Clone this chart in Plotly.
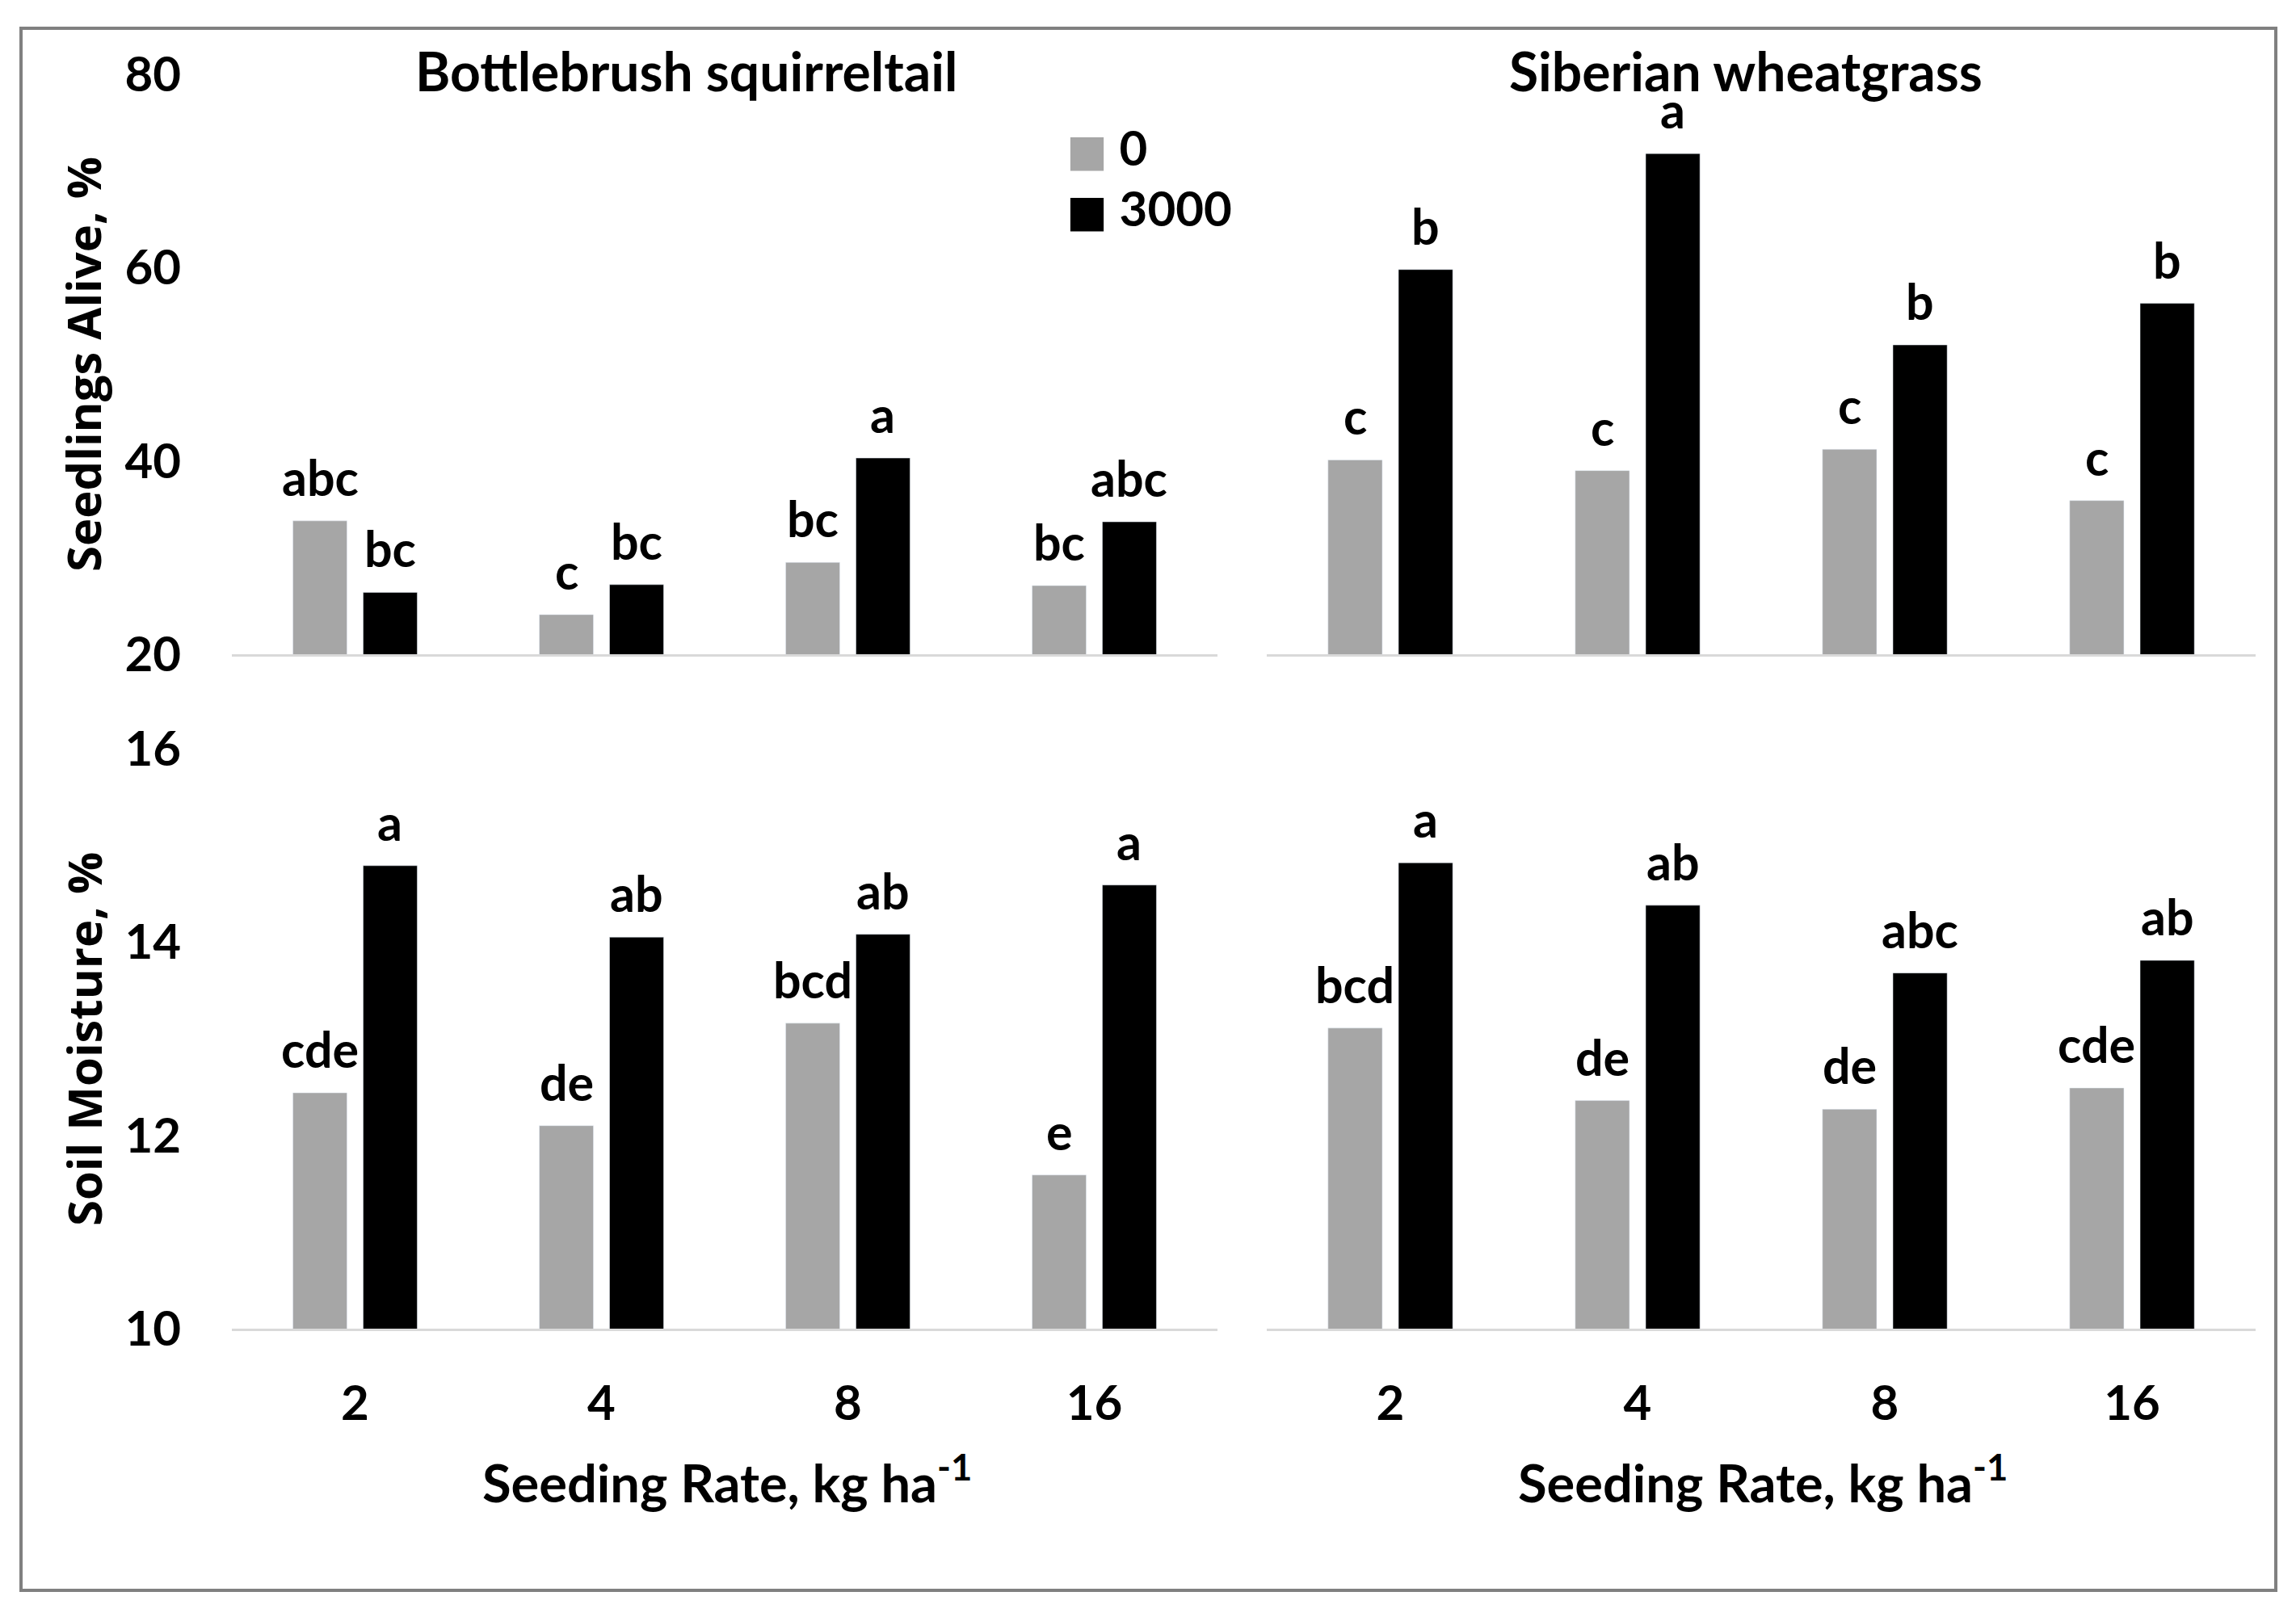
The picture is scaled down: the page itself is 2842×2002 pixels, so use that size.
import plotly.graph_objects as go

# ---------------- data ----------------
categories = ["2", "4", "8", "16"]
series_names = ["0", "3000"]

bs_alive_0 = [33.8, 24.1, 29.5, 27.1]
bs_alive_3000 = [26.4, 27.2, 40.3, 33.7]
sw_alive_0 = [40.1, 39.0, 41.2, 35.9]
sw_alive_3000 = [59.8, 71.8, 52.0, 56.3]

bs_moist_0 = [12.44, 12.10, 13.16, 11.59]
bs_moist_3000 = [14.79, 14.05, 14.08, 14.59]
sw_moist_0 = [13.11, 12.36, 12.27, 12.49]
sw_moist_3000 = [14.82, 14.38, 13.68, 13.81]

bs_alive_0_lbl = ["abc", "c", "bc", "bc"]
bs_alive_3000_lbl = ["bc", "bc", "a", "abc"]
sw_alive_0_lbl = ["c", "c", "c", "c"]
sw_alive_3000_lbl = ["b", "a", "b", "b"]
bs_moist_0_lbl = ["cde", "de", "bcd", "e"]
bs_moist_3000_lbl = ["a", "ab", "ab", "a"]
sw_moist_0_lbl = ["bcd", "de", "de", "cde"]
sw_moist_3000_lbl = ["a", "ab", "abc", "ab"]

panel_titles = ["Bottlebrush squirreltail", "Siberian wheatgrass"]
y_titles = ["Seedlings Alive, %", "Soil Moisture, %"]
x_title = "Seeding Rate, kg ha<sup>-1</sup>"

# ---------------- style / layout ----------------
W, H = 2842, 2002
GRAY = "#a6a6a6"
BLACK = "#000000"
SERIES_COLORS = [GRAY, BLACK]
FONT = "Lato"
TITLE_FONT = "Open Sans"
BARGAP = 0.43
BARGROUPGAP = 0.23

xL = [287 / W, 1507 / W]
xR = [1568 / W, 2792 / W]
yT = [1 - 810 / H, 1 - 92 / H]
yB = [1 - 1645 / H, 1 - 927 / H]

panels = [
    ("x", "y", xL, yT, bs_alive_0, bs_alive_3000, bs_alive_0_lbl, bs_alive_3000_lbl),
    ("x2", "y2", xR, yT, sw_alive_0, sw_alive_3000, sw_alive_0_lbl, sw_alive_3000_lbl),
    ("x3", "y3", xL, yB, bs_moist_0, bs_moist_3000, bs_moist_0_lbl, bs_moist_3000_lbl),
    ("x4", "y4", xR, yB, sw_moist_0, sw_moist_3000, sw_moist_0_lbl, sw_moist_3000_lbl),
]

fig = go.Figure()
annotations = []
label_font = dict(family=FONT, size=61, color="black", weight="bold")

for xa, ya, xd, yd, v0, v1, l0, l1 in panels:
    fig.add_trace(go.Bar(x=categories, y=v0, name=series_names[0], marker_color=GRAY,
                         xaxis=xa, yaxis=ya, showlegend=False, legendgroup="0"))
    fig.add_trace(go.Bar(x=categories, y=v1, name=series_names[1], marker_color=BLACK,
                         xaxis=xa, yaxis=ya, showlegend=False, legendgroup="3000"))
    cat_w = (xd[1] - xd[0]) * W / len(categories)
    off = (1 - BARGAP) / 4 * cat_w
    for vals, lbls, sgn in ((v0, l0, -1), (v1, l1, 1)):
        for idx, (v, t) in enumerate(zip(vals, lbls)):
            # category axes: annotation x given as the category index
            annotations.append(dict(x=idx, y=v, xref=xa, yref=ya, text=t, showarrow=False,
                                    xanchor="center", yanchor="bottom", xshift=sgn * off,
                                    yshift=16, font=label_font))

tick_font = dict(family=FONT, size=60, color="black", weight="bold")
base_line = dict(showline=True, linecolor="#d9d9d9", linewidth=3, ticks="", showgrid=False,
                 zeroline=False, fixedrange=True, automargin=False)

layout_axes = {}
for i, (xa, ya, xd, yd, *_rest) in enumerate(panels):
    xname = "xaxis" if xa == "x" else "xaxis" + xa[1:]
    yname = "yaxis" if ya == "y" else "yaxis" + ya[1:]
    bottom = i >= 2
    left = i % 2 == 0
    layout_axes[xname] = dict(base_line, domain=xd, anchor=ya, type="category",
                              categoryorder="array", categoryarray=categories,
                              range=[-0.5, len(categories) - 0.5],
                              showticklabels=bottom, tickfont=tick_font, ticklabelstandoff=38)
    if i < 2:
        yrange, dt = [20, 80], 20
    else:
        yrange, dt = [10, 16], 2
    layout_axes[yname] = dict(domain=yd, anchor=xa, range=yrange, dtick=dt, tick0=yrange[0],
                              showgrid=False, zeroline=False, showline=False, ticks="",
                              showticklabels=left, tickfont=tick_font, ticklabelstandoff=62,
                              fixedrange=True, automargin=False)

title_font = dict(family=FONT, size=66, color="black", weight="bold")
xt_font = dict(family=FONT, size=65, color="black", weight="bold")
yt_font = dict(family=TITLE_FONT, size=58, color="black", weight="bold")
annotations += [
    dict(x=849 / W, y=1 - 88 / H, xref="paper", yref="paper", text=panel_titles[0],
         showarrow=False, xanchor="center", yanchor="middle", font=title_font),
    dict(x=2161 / W, y=1 - 88 / H, xref="paper", yref="paper", text=panel_titles[1],
         showarrow=False, xanchor="center", yanchor="middle", font=title_font),
    dict(x=900 / W, y=1 - 1831 / H, xref="paper", yref="paper", text=x_title,
         showarrow=False, xanchor="center", yanchor="middle", font=xt_font),
    dict(x=2182 / W, y=1 - 1831 / H, xref="paper", yref="paper", text=x_title,
         showarrow=False, xanchor="center", yanchor="middle", font=xt_font),
    dict(x=103 / W, y=1 - 451 / H, xref="paper", yref="paper", text=y_titles[0], textangle=-90,
         showarrow=False, xanchor="center", yanchor="middle", font=yt_font),
    dict(x=103 / W, y=1 - 1287 / H, xref="paper", yref="paper", text=y_titles[1], textangle=-90,
         showarrow=False, xanchor="center", yanchor="middle", font=yt_font),
]

# legend (large square swatches, as in the reference)
legend_font = dict(family=FONT, size=60, color="black", weight="bold")
for i, (name, col) in enumerate(zip(series_names, SERIES_COLORS)):
    annotations.append(dict(
        x=1318 / W, y=1 - (182 + 75 * i) / H, xref="paper", yref="paper",
        text=(f"<span style='color:{col};font-family:DejaVu Sans;font-size:54px'>\u25A0</span>"
              f" {name}"),
        showarrow=False, xanchor="left", yanchor="middle", align="left", font=legend_font))

fig.update_layout(
    autosize=True,
    margin=dict(l=0, r=0, t=0, b=0, pad=0, autoexpand=False),
    paper_bgcolor="white", plot_bgcolor="white",
    barmode="group", bargap=BARGAP, bargroupgap=BARGROUPGAP,
    showlegend=False,
    annotations=annotations,
    shapes=[dict(type="rect", xref="paper", yref="paper", x0=26 / W, x1=2817 / W,
                 y0=1 - 1969 / H, y1=1 - 35 / H, line=dict(color="#808080", width=4),
                 fillcolor="rgba(0,0,0,0)", layer="above")],
    **layout_axes,
)

fig.write_html("out.html", config={"displayModeBar": False, "responsive": True},
               default_width="100vw", default_height="100vh",
               post_script="document.body.style.margin='0';document.body.style.overflow='hidden';")
